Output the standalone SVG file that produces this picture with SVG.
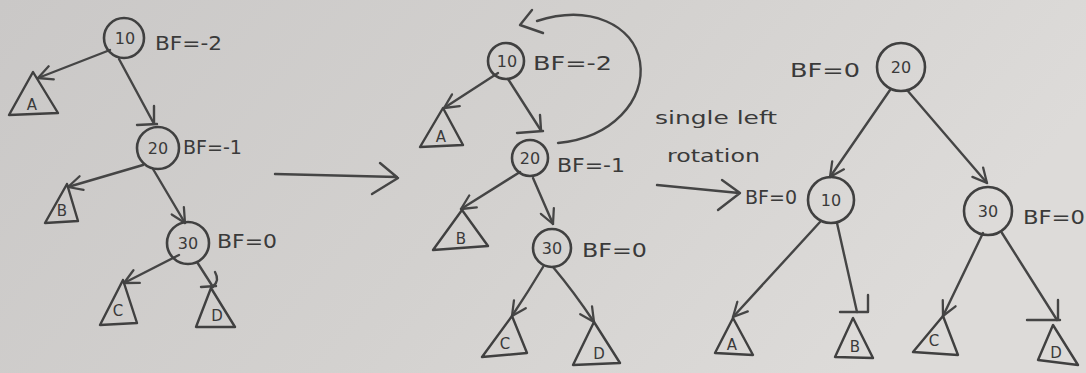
<svg xmlns="http://www.w3.org/2000/svg" width="1086" height="373" viewBox="0 0 1086 373">
  <defs>
    <linearGradient id="paper" x1="0" y1="0" x2="1" y2="0.3">
      <stop offset="0" stop-color="#cac8c7"/>
      <stop offset="0.55" stop-color="#d3d1cf"/>
      <stop offset="1" stop-color="#dddbd9"/>
    </linearGradient>
    <marker id="head" viewBox="0 0 12 12" refX="11" refY="6" markerWidth="17" markerHeight="17" markerUnits="userSpaceOnUse" orient="auto">
      <path d="M1,1 L11,6 L1,11" fill="none" stroke="#454545" stroke-width="1.6" stroke-linecap="round" stroke-linejoin="round"/>
    </marker>
    <style>
      .ink { fill: none; stroke: #454545; stroke-width: 2.4; stroke-linecap: round; stroke-linejoin: round; }
      .node { fill: none; stroke: #404040; stroke-width: 2.6; }
      .tri { fill: none; stroke: #404040; stroke-width: 2.4; stroke-linejoin: round; }
      .key { font-family: "DejaVu Sans", "Liberation Sans", sans-serif; font-size: 16px; fill: #3a3a3a; text-anchor: middle; }
      .sub { font-family: "DejaVu Sans", "Liberation Sans", sans-serif; font-size: 15px; fill: #3a3a3a; text-anchor: middle; }
      .bf { font-family: "DejaVu Sans", "Liberation Sans", sans-serif; font-size: 20px; fill: #3a3a3a; }
      .note { font-family: "DejaVu Sans", "Liberation Sans", sans-serif; font-size: 18px; fill: #3a3a3a; }
    </style>
  </defs>

  <rect width="1086" height="373" fill="url(#paper)"/>

  <!-- connectors -->
  <g id="connectors">
    <!-- left tree -->
    <path class="ink" d="M110,50 L38,78" marker-end="url(#head)"/>
    <path class="ink" d="M119,59 L153,122"/>
    <path class="ink" d="M154,106 L154,124 M137,125 L157,124"/>
    <path class="ink" d="M143,165 L68,187" marker-end="url(#head)"/>
    <path class="ink" d="M153,169 L185,223" marker-end="url(#head)"/>
    <path class="ink" d="M179,255 L124,283" marker-end="url(#head)"/>
    <path class="ink" d="M197,262 L213,287"/>
    <path class="ink" d="M215,272 Q220,281 213,286 M201,287 L216,286"/>

    <!-- transition arrow -->
    <path class="ink" d="M275,174 L397,177 M380,163 L398,178 L372,194"/>

    <!-- middle tree -->
    <path class="ink" d="M558,143 C612,138 646,100 640,62 C634,25 590,4 537,21"/>
    <path class="ink" d="M532,10 L520,25 L543,33"/>
    <path class="ink" d="M498,73 L444,108" marker-end="url(#head)"/>
    <path class="ink" d="M508,79 L540,129"/>
    <path class="ink" d="M540,115 L541,130 M517,133 L543,131"/>
    <path class="ink" d="M520,172 L461,209" marker-end="url(#head)"/>
    <path class="ink" d="M533,178 L553,224" marker-end="url(#head)"/>
    <path class="ink" d="M543,267 Q528,292 512,316" marker-end="url(#head)"/>
    <path class="ink" d="M553,267 Q574,292 594,322" marker-end="url(#head)"/>

    <!-- rotation arrow -->
    <path class="ink" d="M657,185 L739,193 M722,180 L740,193 L718,210"/>

    <!-- right tree -->
    <path class="ink" d="M890,90 L830,177" marker-end="url(#head)"/>
    <path class="ink" d="M907,90 L987,183" marker-end="url(#head)"/>
    <path class="ink" d="M820,222 L733,317" marker-end="url(#head)"/>
    <path class="ink" d="M837,223 L857,312"/>
    <path class="ink" d="M868,295 L868,312 M840,312 L868,312"/>
    <path class="ink" d="M983,233 L943,316" marker-end="url(#head)"/>
    <path class="ink" d="M1002,233 L1057,320"/>
    <path class="ink" d="M1058,300 L1058,320 M1027,320 L1060,320"/>
  </g>

  <!-- left tree -->
  <g id="l-n10">
    <circle class="node" cx="124" cy="38" r="20"/>
    <text class="key" x="125" y="44">10</text>
    <text class="bf" x="155" y="50" textLength="67" lengthAdjust="spacingAndGlyphs">BF=-2</text>
  </g>
  <g id="l-A">
    <path class="tri" d="M33,72 L9,115 L58,113 Z"/>
    <text class="sub" x="32" y="110">A</text>
  </g>
  <g id="l-n20">
    <circle class="node" cx="158" cy="148" r="21"/>
    <text class="key" x="158" y="154">20</text>
    <text class="bf" x="183" y="154" textLength="59" lengthAdjust="spacingAndGlyphs">BF=-1</text>
  </g>
  <g id="l-B">
    <path class="tri" d="M67,184 L45,223 L78,221 Z"/>
    <text class="sub" x="62" y="216">B</text>
  </g>
  <g id="l-n30">
    <circle class="node" cx="188" cy="243" r="21"/>
    <text class="key" x="188" y="249">30</text>
    <text class="bf" x="217" y="248" textLength="60" lengthAdjust="spacingAndGlyphs">BF=0</text>
  </g>
  <g id="l-C">
    <path class="tri" d="M123,280 L100,325 L137,323 Z"/>
    <text class="sub" x="118" y="316">C</text>
  </g>
  <g id="l-D">
    <path class="tri" d="M211,288 L196,327 L235,327 Z"/>
    <text class="sub" x="217" y="321">D</text>
  </g>

  <!-- middle tree -->
  <g id="m-n10">
    <circle class="node" cx="506" cy="61" r="18"/>
    <text class="key" x="507" y="67">10</text>
    <text class="bf" x="533" y="70" textLength="79" lengthAdjust="spacingAndGlyphs">BF=-2</text>
  </g>
  <g id="m-A">
    <path class="tri" d="M443,108 L420,147 L463,145 Z"/>
    <text class="sub" x="441" y="142">A</text>
  </g>
  <g id="m-n20">
    <circle class="node" cx="530" cy="158" r="18"/>
    <text class="key" x="530" y="164">20</text>
    <text class="bf" x="557" y="172" textLength="68" lengthAdjust="spacingAndGlyphs">BF=-1</text>
  </g>
  <g id="m-B">
    <path class="tri" d="M462,210 L433,250 L488,246 Z"/>
    <text class="sub" x="461" y="244">B</text>
  </g>
  <g id="m-n30">
    <circle class="node" cx="552" cy="248" r="19"/>
    <text class="key" x="552" y="254">30</text>
    <text class="bf" x="582" y="257" textLength="65" lengthAdjust="spacingAndGlyphs">BF=0</text>
  </g>
  <g id="m-C">
    <path class="tri" d="M512,316 L482,357 L527,353 Z"/>
    <text class="sub" x="505" y="349">C</text>
  </g>
  <g id="m-D">
    <path class="tri" d="M594,322 L573,365 L620,363 Z"/>
    <text class="sub" x="599" y="359">D</text>
  </g>

  <!-- rotation label -->
  <g id="rotation-label">
    <text class="note" x="655" y="124" textLength="122" lengthAdjust="spacingAndGlyphs">single left</text>
    <text class="note" x="667" y="162" textLength="93" lengthAdjust="spacingAndGlyphs">rotation</text>
  </g>

  <!-- right tree -->
  <g id="r-n20">
    <circle class="node" cx="901" cy="67" r="24"/>
    <text class="key" x="901" y="73">20</text>
    <text class="bf" x="790" y="77" textLength="70" lengthAdjust="spacingAndGlyphs">BF=0</text>
  </g>
  <g id="r-n10">
    <circle class="node" cx="831" cy="200" r="23"/>
    <text class="key" x="831" y="206">10</text>
    <text class="bf" x="745" y="204" textLength="52" lengthAdjust="spacingAndGlyphs">BF=0</text>
  </g>
  <g id="r-n30">
    <circle class="node" cx="988" cy="211" r="24"/>
    <text class="key" x="988" y="217">30</text>
    <text class="bf" x="1023" y="224" textLength="62" lengthAdjust="spacingAndGlyphs">BF=0</text>
  </g>
  <g id="r-A">
    <path class="tri" d="M733,318 L715,353 L753,355 Z"/>
    <text class="sub" x="732" y="350">A</text>
  </g>
  <g id="r-B">
    <path class="tri" d="M853,318 L835,357 L873,358 Z"/>
    <text class="sub" x="855" y="352">B</text>
  </g>
  <g id="r-C">
    <path class="tri" d="M943,316 L913,352 L958,355 Z"/>
    <text class="sub" x="934" y="346">C</text>
  </g>
  <g id="r-D">
    <path class="tri" d="M1053,325 L1038,360 L1078,365 Z"/>
    <text class="sub" x="1056" y="358">D</text>
  </g>
</svg>
